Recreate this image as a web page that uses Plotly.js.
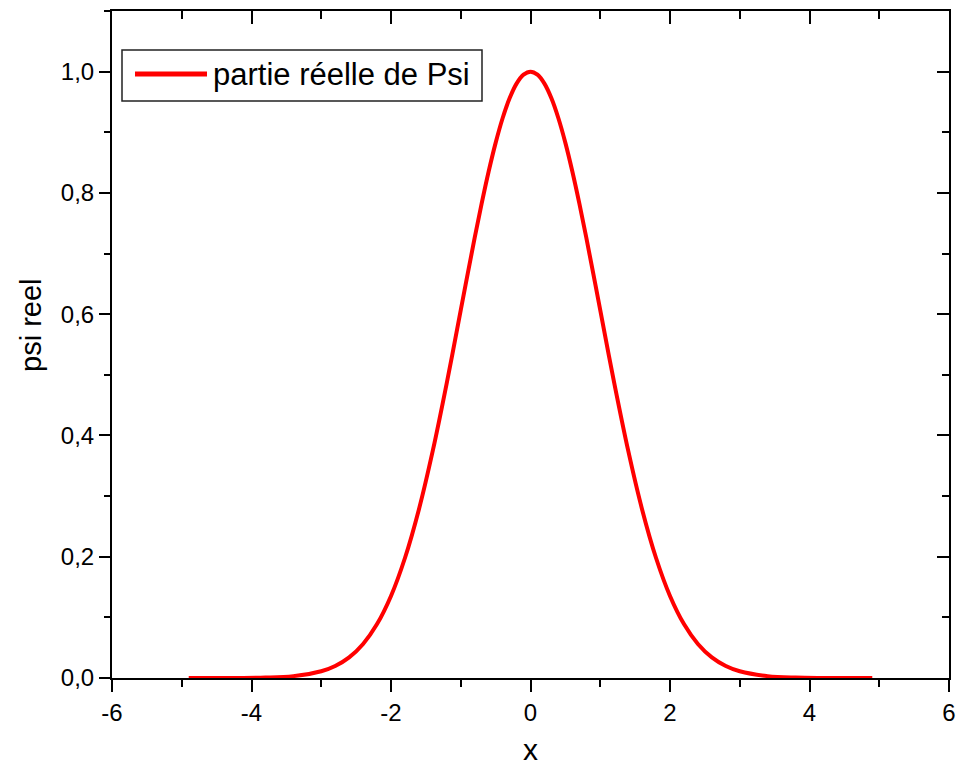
<!DOCTYPE html>
<html>
<head>
<meta charset="utf-8">
<script src="https://cdn.plot.ly/plotly-3.0.1.min.js"></script>
<style>
  html, body { margin: 0; padding: 0; background: #fff; }
  #chart { width: 958px; height: 769px; }
</style>
</head>
<body>
<div id="chart"></div>
<script>
// Real part of the wave function psi(x) sampled along x (denser near the peak)
const xValues = [-4.9, -4.6, -4.2, -3.8, -3.4, -3.0, -2.8, -2.6, -2.4, -2.2, -2.0, -1.8, -1.6, -1.4, -1.2, -1.0,
                 -0.9, -0.8, -0.7, -0.6, -0.5, -0.4, -0.3, -0.2, -0.1, 0.0, 0.1, 0.2, 0.3, 0.4, 0.5, 0.6, 0.7, 0.8, 0.9,
                 1.0, 1.2, 1.4, 1.6, 1.8, 2.0, 2.2, 2.4, 2.6, 2.8, 3.0, 3.4, 3.8, 4.2, 4.6, 4.9];
const psiReal = [0.0, 0.00003, 0.0001, 0.0007, 0.0031, 0.0111, 0.0198, 0.034, 0.0561, 0.0889, 0.1353, 0.1979, 0.278, 0.3753, 0.4868, 0.6065,
                 0.667, 0.7261, 0.7827, 0.8353, 0.8825, 0.9231, 0.956, 0.9802, 0.995, 1.0, 0.995, 0.9802, 0.956, 0.9231, 0.8825, 0.8353, 0.7827, 0.7261, 0.667,
                 0.6065, 0.4868, 0.3753, 0.278, 0.1979, 0.1353, 0.0889, 0.0561, 0.034, 0.0198, 0.0111, 0.0031, 0.0007, 0.0001, 0.00003, 0.0];

const seriesName = 'partie réelle de Psi';
const xTickVals = [-6, -4, -2, 0, 2, 4, 6];
const xTickText = ['-6', '-4', '-2', '0', '2', '4', '6'];
const yTickVals = [0, 0.2, 0.4, 0.6, 0.8, 1.0];
const yTickText = ['0,0', '0,2', '0,4', '0,6', '0,8', '1,0'];
const xTitle = 'x';
const yTitle = 'psi reel';

// Page geometry (pixels)
const W = 958, H = 769;
const M = { l: 112, r: 9, t: 11, b: 91 };
const PW = W - M.l - M.r, PH = H - M.t - M.b;
const px = v => (v - M.l) / PW;          // page x -> paper x
const py = v => (M.t + PH - v) / PH;     // page y -> paper y

const FONT = 'Arial, "Liberation Sans", sans-serif';
const RED = '#ff0000';

const traces = [
  {
    x: xValues, y: psiReal, type: 'scatter', mode: 'lines',
    line: { color: RED, width: 4, shape: 'spline', smoothing: 1 },
    name: seriesName, showlegend: false, hoverinfo: 'x+y'
  },
  {
    // carrier for the mirrored top/right axes
    x: xValues, y: psiReal, xaxis: 'x2', yaxis: 'y2', type: 'scatter', mode: 'lines',
    line: { color: 'rgba(0,0,0,0)', width: 0 }, showlegend: false, hoverinfo: 'skip'
  }
];

const baseAxis = {
  showgrid: false, zeroline: false, showline: true,
  linecolor: '#000', linewidth: 2, tickcolor: '#000', tickwidth: 2
};

const layout = {
  width: W, height: H,
  margin: M,
  paper_bgcolor: '#fff', plot_bgcolor: '#fff',
  font: { family: FONT, color: '#000' },
  showlegend: false,
  xaxis: Object.assign({}, baseAxis, {
    range: [-6, 6], ticks: 'outside', ticklen: 12,
    tickvals: xTickVals, ticktext: xTickText,
    tickfont: { size: 24, family: FONT, color: '#000' },
    minor: { dtick: 1, ticks: 'outside', ticklen: 7, tickwidth: 2, tickcolor: '#000', showgrid: false },
    title: { text: xTitle, font: { size: 30, family: FONT, color: '#000' }, standoff: 14 }
  }),
  yaxis: Object.assign({}, baseAxis, {
    range: [0, 1.1], ticks: 'outside', ticklen: 11,
    tickvals: yTickVals, ticktext: yTickText,
    tickfont: { size: 24, family: FONT, color: '#000' },
    minor: { dtick: 0.1, ticks: 'outside', ticklen: 6, tickwidth: 2, tickcolor: '#000', showgrid: false }
  }),
  xaxis2: Object.assign({}, baseAxis, {
    overlaying: 'x', side: 'top', anchor: 'y2', range: [-6, 6],
    ticks: 'inside', ticklen: 13, tickvals: xTickVals, showticklabels: false,
    minor: { dtick: 1, ticks: 'inside', ticklen: 8, tickwidth: 2, tickcolor: '#000', showgrid: false }
  }),
  yaxis2: Object.assign({}, baseAxis, {
    overlaying: 'y', side: 'right', anchor: 'x2', range: [0, 1.1],
    ticks: 'inside', ticklen: 12, tickvals: yTickVals, showticklabels: false,
    minor: { dtick: 0.1, ticks: 'inside', ticklen: 7, tickwidth: 2, tickcolor: '#000', showgrid: false }
  }),
  shapes: [
    // legend frame
    { type: 'rect', xref: 'paper', yref: 'paper',
      x0: px(122), x1: px(482), y0: py(101), y1: py(50),
      line: { color: '#222', width: 1.5 }, fillcolor: '#fff', layer: 'above' },
    // legend line sample
    { type: 'line', xref: 'paper', yref: 'paper',
      x0: px(135), x1: px(207), y0: py(74), y1: py(74),
      line: { color: RED, width: 5 }, layer: 'above' }
  ],
  annotations: [
    { xref: 'paper', yref: 'paper', x: px(211), y: py(75),
      xanchor: 'left', yanchor: 'middle', showarrow: false,
      text: seriesName, font: { size: 31, family: FONT, color: '#000' } },
    // y axis title
    { xref: 'paper', yref: 'paper', x: px(31), y: py(325),
      xanchor: 'center', yanchor: 'middle', showarrow: false, textangle: -90,
      text: yTitle, font: { size: 29, family: FONT, color: '#000' } }
  ]
};

Plotly.newPlot('chart', traces, layout, { displayModeBar: false, staticPlot: true });
</script>
</body>
</html>
